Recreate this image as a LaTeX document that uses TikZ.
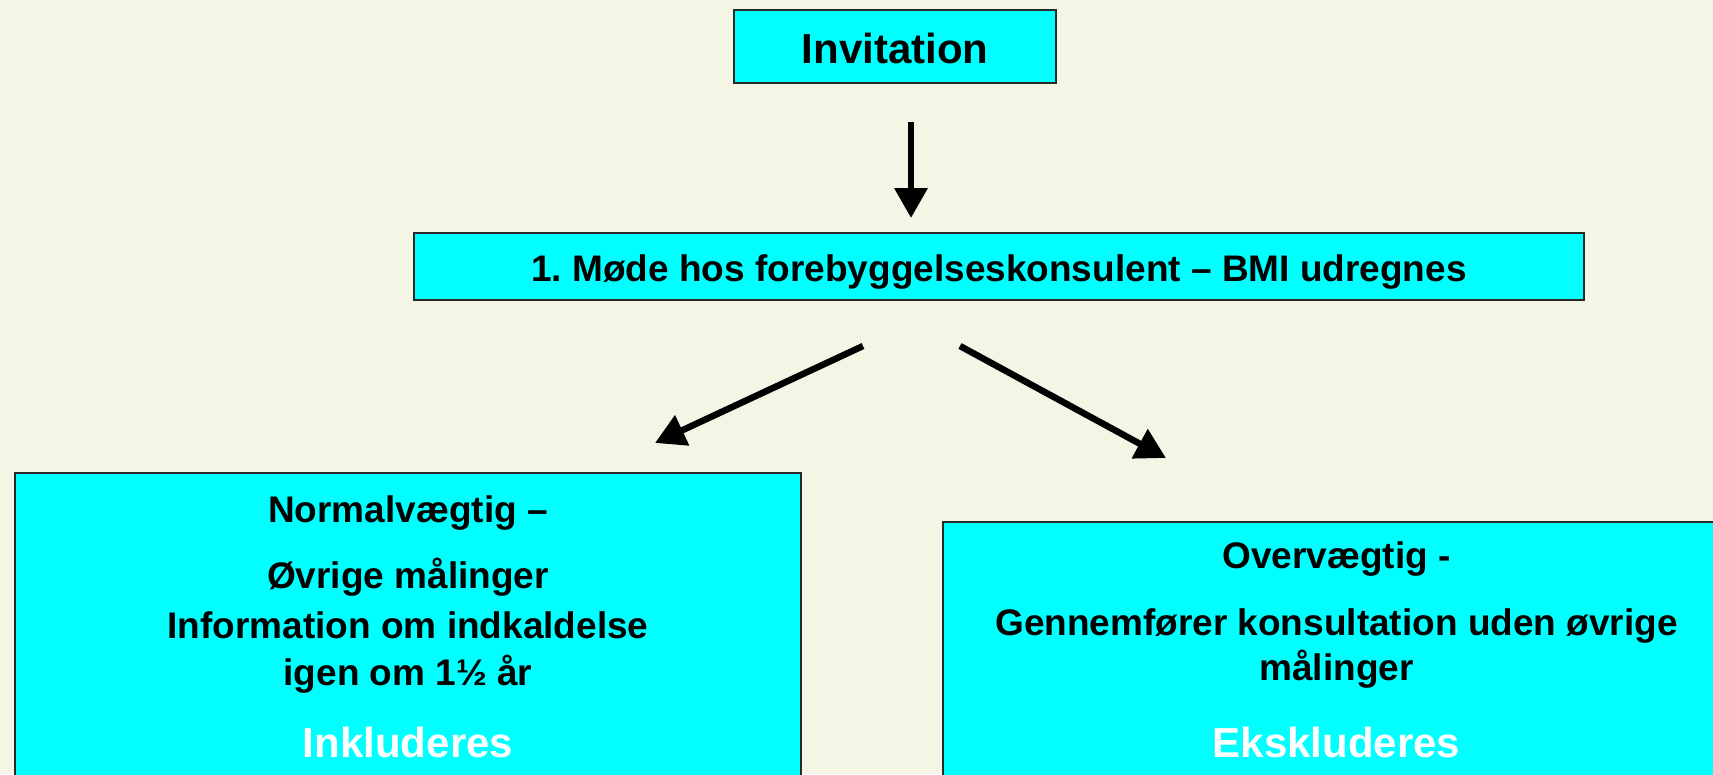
\documentclass[tikz,border=0pt]{standalone}
\usepackage{fontspec}
\setmainfont{Liberation Sans}
\usetikzlibrary{arrows.meta}
\frenchspacing

\definecolor{paper}{RGB}{245,245,230}
\definecolor{boxcyan}{RGB}{0,255,255}
\definecolor{boxline}{RGB}{40,40,40}

\tikzset{
  panel/.style={draw=boxline, line width=2pt, fill=boxcyan, inner sep=0pt},
  flow/.style={line width=6.5pt, -{Triangle[length=30pt,width=32pt]}},
  txt/.style={anchor=base, inner sep=0pt, font=\bfseries\fontsize{37}{44}\selectfont},
  verdict/.style={anchor=base, inner sep=0pt, text=white, font=\bfseries\fontsize{42}{50}\selectfont}
}

\begin{document}
\begin{tikzpicture}[x=1pt,y=-1pt]
    \useasboundingbox (0,0) rectangle (1713,774);
    \clip (0,0) rectangle (1713,774);
    \fill[paper] (0,0) rectangle (1713,774);

    % top of the flow
    \node[panel, minimum width=322pt, minimum height=73pt, text height=33pt, text depth=0pt,
          font=\bfseries\fontsize{42}{50}\selectfont] (invitation) at (895,46.5) {Invitation};
    \node[panel, minimum width=1170pt, minimum height=67pt, text height=29pt, text depth=0pt,
          font=\bfseries\fontsize{37}{44}\selectfont] (meeting) at (999,266.5)
          {1. Møde hos forebyggelseskonsulent – BMI udregnes};

    % the two outcomes
    \node[panel, anchor=north west, minimum width=786pt, minimum height=400pt] (normal) at (14,472) {};
    \node[panel, anchor=north west, minimum width=787pt, minimum height=400pt] (over) at (942,521) {};

    \node[txt] (normalhead) at ([yshift=-50pt]normal.north) {Normalvægtig –};
    \node[txt] (normalone) at ([yshift=-116pt]normal.north) {Øvrige målinger};
    \node[txt] (normaltwo) at ([yshift=-166pt]normal.north) {Information om indkaldelse};
    \node[txt] (normalthree) at ([yshift=-213pt]normal.north) {igen om 1½ år};
    \node[verdict] (include) at ([yshift=-285pt]normal.north) {Inkluderes};

    \node[txt] (overhead) at ([yshift=-47pt]over.north) {Overvægtig -};
    \node[txt] (overone) at ([yshift=-114pt]over.north) {Gennemfører konsultation uden øvrige};
    \node[txt] (overtwo) at ([yshift=-159pt]over.north) {målinger};
    \node[verdict] (exclude) at ([yshift=-236pt]over.north) {Ekskluderes};

    % arrows float between the boxes
    \coordinate (downfrom) at (911,122);
    \coordinate (downto) at (911,218);
    \coordinate (leftfrom) at (863,346);
    \coordinate (leftto) at (655,443);
    \coordinate (rightfrom) at (960,346);
    \coordinate (rightto) at (1166,458);

    \draw[flow] (downfrom) -- (downto);
    \draw[flow] (leftfrom) -- (leftto);
    \draw[flow] (rightfrom) -- (rightto);
\end{tikzpicture}
\end{document}
